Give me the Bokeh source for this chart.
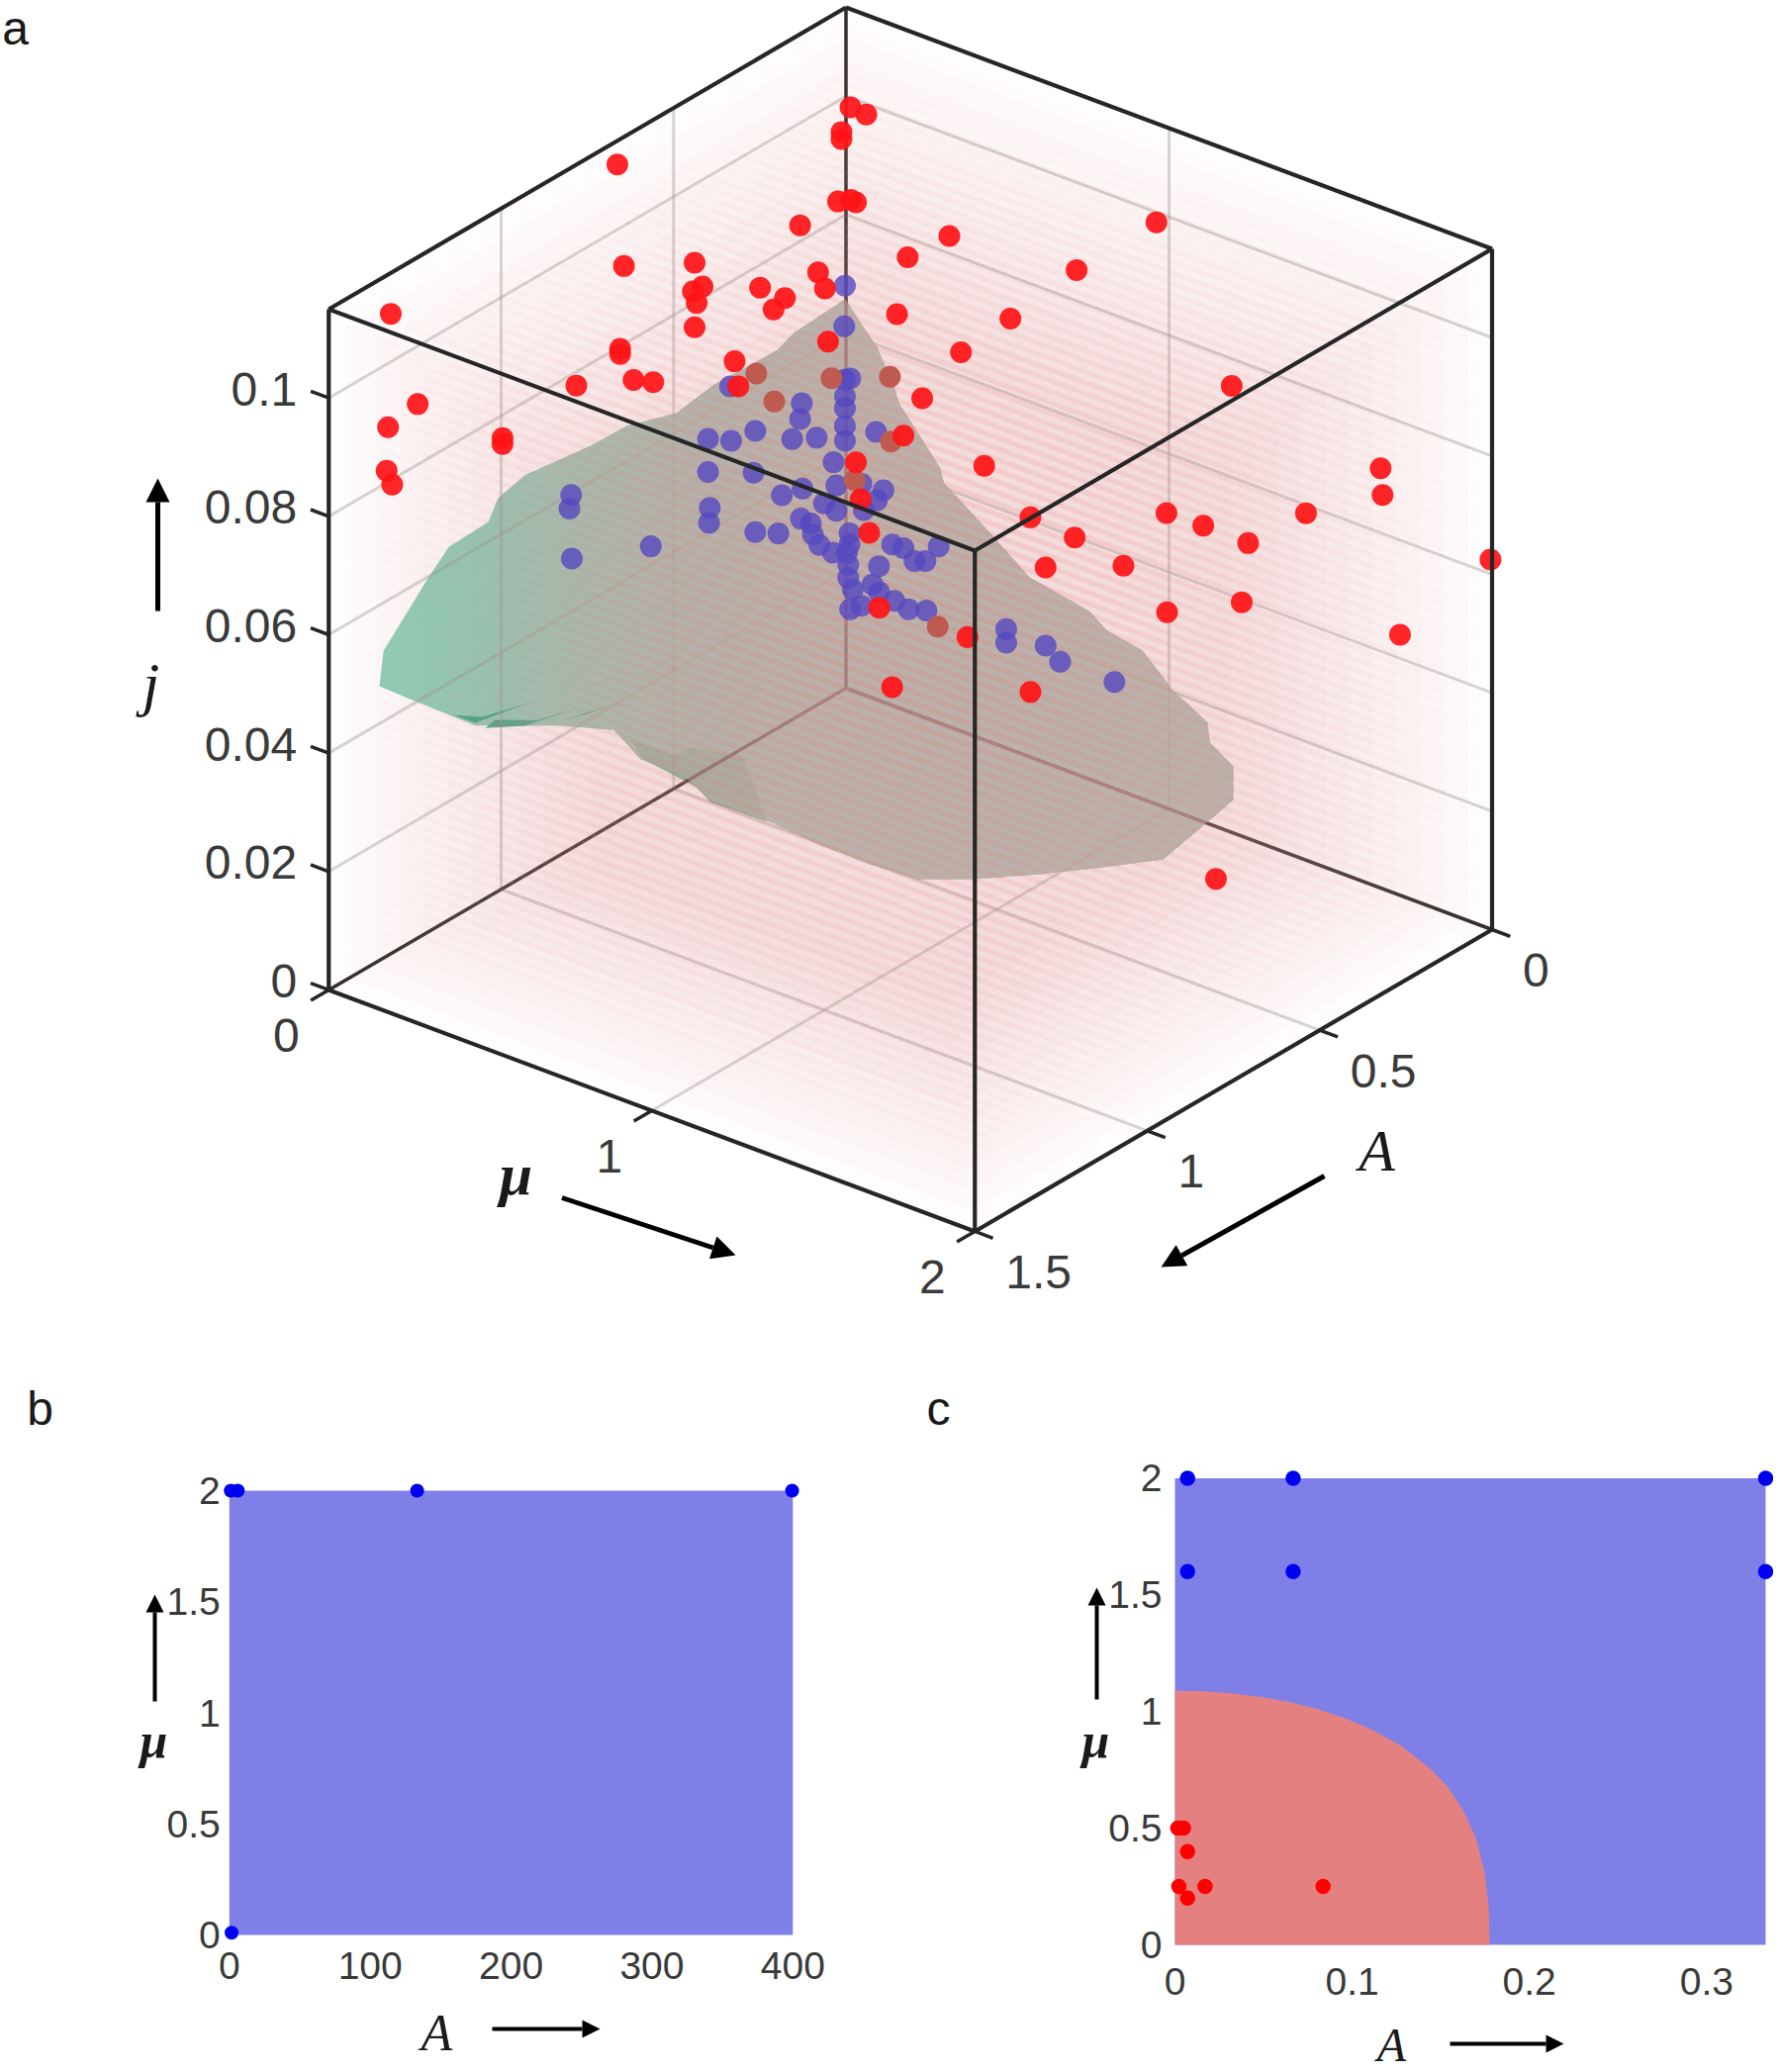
import numpy as np
from bokeh.plotting import figure
from bokeh.layouts import column, row
from bokeh.models import Range1d, FixedTicker, Arrow, NormalHead
from bokeh.core.properties import value
from bokeh.embed import file_html
from bokeh.resources import INLINE

# ---------- panel a data: (A, mu, j) ----------
red_A = [.663,.644,1.320,0,0,.013,.013,.023,0,0,.133,.439,.416,.444,.433,.439,.249,.177,.210,.081,.061,.052,
         .655,.655,.782,.616,.559,1.242,1.328,.996,.996,1.332,1.316,.323,.312] + [0] * 32 + [.5]
red_mu = [0,0,0,.014,.063,0,0,0,.015,.031,0,0,0,0,0,0,0,0,0,0,0,0,
          0,0,0,0,0,0,0,0,0,0,0,0,0,
          .356,.236,.178,.031,.045,.072,.428,1.194,.571,.992,1.106,1.245,.708,.618,.859,.994,1.225,.103,.376,.143,.571,
          1.655,1.661,1.424,1.995,1.715,.961,.714,.320,.191,.158,.509,1.679]
red_j = [.1110,.0932,.1081,.0984,.0982,.0944,.0932,.0830,.0828,.0827,.0827,.0868,.0820,.0821,.0798,.0759,.0761,.0719,.0711,.0730,.0696,.0603,
         .0796,.0787,.0777,.0730,.0707,.0902,.0892,.0761,.0751,.0820,.0791,.0662,.0616,
         .0640,.0538,.0463,.0388,.0328,.0277,.0463,.0754,.0405,.0498,.0500,.0499,.0399,.0330,.0382,.0331,.0395,.0157,.0163,.0031,.0110,
         .0709,.0665,.0586,.0624,.0440,.0983,.0852,.0829,.0767,.0664,.0728,.0190]

dim_A = [.260,.208,.042,0,0,0,0]
dim_mu = [0,0,0,.136,.139,.027,.284]
dim_j = [.0620,.0555,.0538,.0554,.0445,.0357,.0162]

blue_A = [.400,.333,.263,.128,.133,.156,.085,.003,0,.003,.003,.003,.003,0,.036,.400,.268,.395,.397,.263,.196,.566,
          .186,.126,.028,0,0,0,.064,.028,0,.131,.102,.096,.077,.038] + [0] * 23 + [
          .797,.802,.795,.336,.003,.005]
blue_mu = [0,0,0,0,0,0,0,0,.013,0,0,0,0,.093,0,0,0,0,0,0,0,0,
           0,0,0,.048,.116,.096,0,0,.055,0,0,0,0,0,.011,.011,.003,.007,.007,.102,.143,.178,.212,.246,.287,.021,.082,.103,.150,.194,.249,.013,.048,.496,.496,.618,.663,
           0,0,0,0,0,0]
blue_j = [.0557,.0531,.0524,.0525,.0500,.0474,.0452,.0522,.0526,.0494,.0474,.0444,.0419,.0452,.0394,.0501,.0455,.0439,.0414,.0353,.0328,.0432,
          .0389,.0380,.0352,.0355,.0358,.0337,.0334,.0309,.0312,.0331,.0313,.0292,.0268,.0242,.0264,.0245,.0229,.0210,.0188,.0227,.0272,.0273,.0258,.0265,.0298,.0171,.0192,.0183,.0178,.0173,.0182,.0136,.0149,.0201,.0178,.0198,.0180,
          .0597,.0576,.0489,.0624,.0681,.0613]
blue_far_A = [0]
blue_far_mu = [.831]
blue_far_j = [.0180]

surface_A = [.002,.154,.197,.286,.383,.492,.636,.739,.931,1.009,1.037,1.152,1.218,1.341,1.353,1.238,1.075,.931,.836,.673,.595,.472,
             .586,.622,.662,.7,.7,.7,.7,.6,.5] + [0] * 17
surface_mu = [0,0,0,0,0,0,0,0,0,0,0,0,0,0,0,0,0,0,0,0,0,0,
              .213,.427,.640,.816,.969,1.141,1.346,1.416,1.516,1.126,1.199,1.199,1.126,1.119,1.012,.917,.807,.752,.568,.424,.302,.292,.164,.152,.096,.054]
surface_j = [.0658,.0651,.0639,.0640,.0643,.0632,.0659,.0661,.0676,.0664,.0633,.0630,.0594,.0519,.0463,.0396,.0302,.0253,.0221,.0158,.0082,.0013,
             .0051,.0073,.0088,.0108,.0113,.0148,.0198,.0189,.0190,.0007,.0056,.0112,.0138,.0170,.0203,.0251,.0262,.0284,.0303,.0362,.0409,.0431,.0515,.0536,.0596,.0621]

under_A = [.624,.501,.452,.4,.628,.592,.535,.587]
under_mu = [0,0,0,.107,.427,.213,.107,0]
under_j = [.0125,.0058,.0053,.0044,.0075,.0052,.0037,.0079]

sliver_A = [[1.138,1.075,.911,1.055],[1.046,.931,.759,.894,1.017],[.768,.653,.722],[.624,.492,.567],[.816,.664,.759]]
sliver_j = [[.0341,.0307,.0286,.0310],[.0288,.0253,.0228,.0250,.0292],[.0256,.0250,.0254],[.0225,.0221,.0223],[.0224,.0201,.0213]]

A_ticks = [0, .5, 1, 1.5]
A_labels = ["0", "0.5", "1", "1.5"]
mu_ticks = [0, 1, 2]
mu_labels = ["0", "1", "2"]
j_ticks = [0, .02, .04, .06, .08, .1]
j_labels = ["0", "0.02", "0.04", "0.06", "0.08", "0.1"]
A_MAX, MU_MAX, J_MAX = 1.5, 2.0, 0.115

# ---------- panel b data ----------
b_dot_A = [1, 6, 133.3, 399.5, 1.6]
b_dot_mu = [2, 2, 2, 2, .01]
b_x_ticks = [0, 100, 200, 300, 400]
b_y_ticks = [0, .5, 1, 1.5, 2]
b_y_labels = ["0", "0.5", "1", "1.5", "2"]

# ---------- panel c data ----------
c_blue_A = [.0071, .0667, .3333, .0071, .0667, .3333]
c_blue_mu = [2, 2, 2, 1.6, 1.6, 1.6]
c_red_A = [.0016, .0048, .0071, .0022, .017, .0071, .0836]
c_red_mu = [.5, .5, .4, .25, .25, .2, .25]
c_bound_A = [0, .016, .032, .048, .064, .080, .096, .112, .128, .144, .154, .163, .170, .175, .177, .1776]
c_bound_mu = [1.089, 1.087, 1.078, 1.063, 1.042, 1.011, .971, .919, .851, .755, .678, .571, .454, .299, .164, 0]
c_x_ticks = [0, .1, .2, .3]
c_x_labels = ["0", "0.1", "0.2", "0.3"]

SANS = value("Liberation Sans")
TICK_C = "#3a3a3a"
HAZE = "#EE9FA3"

# ---------- view of panel a ----------
def vx(A, mu, j):
    return 854.5 + 326.5 * np.asarray(mu, float) - 348.5 * np.asarray(A, float) + 0 * np.asarray(j, float)

def vy(A, mu, j):
    return 695 + 122 * np.asarray(mu, float) + 203.3 * np.asarray(A, float) - 5982.6 * np.asarray(j, float)

def seg3(a0, m0, j0, a1, m1, j1):
    return [float(vx(a0, m0, j0)), float(vx(a1, m1, j1))], [float(vy(a0, m0, j0)), float(vy(a1, m1, j1))]

def clip_right_of(xs, ys, x0):
    """Part of a closed outline that lies to the right of x0 in the view."""
    ox, oy = [], []
    n = len(xs)
    for i in range(n):
        x1, y1, x2, y2 = xs[i], ys[i], xs[(i + 1) % n], ys[(i + 1) % n]
        if x1 >= x0:
            ox.append(x1); oy.append(y1)
        if (x1 >= x0) != (x2 >= x0):
            t = (x0 - x1) / (x2 - x1)
            ox.append(x1 + t * (x2 - x1)); oy.append(y1 + t * (y2 - y1))
    return ox, oy

pa = figure(width=1792, height=1378, x_range=Range1d(0, 1792), y_range=Range1d(1378, 0),
            x_axis_type=None, y_axis_type=None, toolbar_location=None, output_backend="svg",
            min_border=0, outline_line_color=None, background_fill_color="white", border_fill_color="white")
pa.grid.visible = False

# surface
surf_x = vx(surface_A, surface_mu, surface_j)
surf_y = vy(surface_A, surface_mu, surface_j)
pa.patch(surf_x, surf_y, fill_color="#7CCBAE", fill_alpha=0.9, line_color=None)
pa.patch(vx(under_A, under_mu, under_j), vy(under_A, under_mu, under_j),
         fill_color="#6FB590", fill_alpha=0.95, line_color=None)
sl_x = [vx(a, [0] * len(a), jj) for a, jj in zip(sliver_A, sliver_j)]
sl_y = [vy(a, [0] * len(a), jj) for a, jj in zip(sliver_A, sliver_j)]
pa.patches(sl_x, sl_y, fill_color="#2FA57E", fill_alpha=0.9, line_color=None)

# grid on the back walls and the floor
gx, gy = [], []
for jt in j_ticks[1:]:
    a, b = seg3(A_MAX, 0, jt, 0, 0, jt); gx.append(a); gy.append(b)
    a, b = seg3(0, 0, jt, 0, MU_MAX, jt); gx.append(a); gy.append(b)
for at in A_ticks[1:-1]:
    a, b = seg3(at, 0, 0, at, 0, J_MAX); gx.append(a); gy.append(b)
    a, b = seg3(at, 0, 0, at, MU_MAX, 0); gx.append(a); gy.append(b)
for mt in mu_ticks[1:-1]:
    a, b = seg3(0, mt, 0, 0, mt, J_MAX); gx.append(a); gy.append(b)
    a, b = seg3(0, mt, 0, A_MAX, mt, 0); gx.append(a); gy.append(b)
pa.multi_line(gx, gy, line_color="#8f8a8a", line_alpha=0.36, line_width=3)

# back frame
bx_, by_ = [], []
for s in [(0, 0, 0, 0, 0, J_MAX), (0, 0, 0, A_MAX, 0, 0), (0, 0, 0, 0, MU_MAX, 0)]:
    a, b = seg3(*s); bx_.append(a); by_.append(b)
pa.multi_line(bx_, by_, line_color="#2e2a2a", line_width=3.5)

# the red sample mesh seen as haze: nested outlines of the box silhouette
sil_A = [A_MAX, 0, 0, 0, A_MAX, A_MAX]
sil_mu = [0, 0, MU_MAX, MU_MAX, MU_MAX, 0]
sil_j = [J_MAX, J_MAX, J_MAX, 0, 0, 0]
sx0, sy0 = vx(sil_A, sil_mu, sil_j), vy(sil_A, sil_mu, sil_j)
cx0, cy0 = float(vx(.75, 1, .04)), float(vy(.75, 1, .04))
hx, hy = [], []
for s in np.linspace(1, .55, 12):
    hx.append(cx0 + s * (sx0 - cx0)); hy.append(cy0 + s * (sy0 - cy0))
pa.patches(hx, hy, fill_color=HAZE, fill_alpha=0.03, line_color=None)

# the surface turns greyer the deeper the haze in front of it is
tx_, ty_ = [], []
for x0 in np.linspace(500, 820, 18):
    a, b = clip_right_of(list(surf_x), list(surf_y), float(x0))
    tx_.append(a); ty_.append(b)
pa.patches(tx_, ty_, fill_color="#D2BAAE", fill_alpha=0.05, line_color=None)

# rows of the mesh along mu
rx, ry = [], []
for a in (np.arange(15) + .5) * 0.1:
    for jj in (np.arange(62) + .5) * J_MAX / 62:
        p, q = seg3(a, 0, jj, a, MU_MAX, jj); rx.append(p); ry.append(q)
pa.multi_line(rx, ry, line_color=HAZE, line_alpha=0.02, line_width=5, line_dash="5 2")

# samples
pa.scatter(vx(blue_far_A + blue_A, blue_far_mu + blue_mu, blue_far_j + blue_j),
           vy(blue_far_A + blue_A, blue_far_mu + blue_mu, blue_far_j + blue_j),
           size=22, fill_color="#5548C0", fill_alpha=0.8, line_color=None)
pa.scatter(vx(dim_A, dim_mu, dim_j), vy(dim_A, dim_mu, dim_j), size=22,
           fill_color="#BE5A50", line_color=None)
pa.scatter(vx(red_A, red_mu, red_j), vy(red_A, red_mu, red_j), size=22,
           fill_color="#FF1418", fill_alpha=0.93, line_color=None)

# front frame and ticks
fx, fy = [], []
for s in [(A_MAX, 0, 0, A_MAX, MU_MAX, 0), (0, MU_MAX, 0, A_MAX, MU_MAX, 0),
          (A_MAX, 0, 0, A_MAX, 0, J_MAX), (A_MAX, MU_MAX, 0, A_MAX, MU_MAX, J_MAX), (0, MU_MAX, 0, 0, MU_MAX, J_MAX),
          (0, 0, J_MAX, A_MAX, 0, J_MAX), (0, 0, J_MAX, 0, MU_MAX, J_MAX),
          (A_MAX, 0, J_MAX, A_MAX, MU_MAX, J_MAX), (0, MU_MAX, J_MAX, A_MAX, MU_MAX, J_MAX)]:
    a, b = seg3(*s); fx.append(a); fy.append(b)
pa.multi_line(fx, fy, line_color="#262626", line_width=4.2)

tx, ty = [], []
for jt in j_ticks:
    a, b = seg3(A_MAX, 0, jt, A_MAX, -.056, jt); tx.append(a); ty.append(b)
for at in A_ticks:
    a, b = seg3(at, MU_MAX, 0, at, MU_MAX + .056, 0); tx.append(a); ty.append(b)
for mt in mu_ticks:
    a, b = seg3(A_MAX, mt, 0, A_MAX + .052, mt, 0); tx.append(a); ty.append(b)
pa.multi_line(tx, ty, line_color="#262626", line_width=3.5)

# tick labels of panel a
fs = value("48px")
pa.text(vx([A_MAX] * 6, [0] * 6, j_ticks), vy([A_MAX] * 6, [0] * 6, j_ticks), text=j_labels,
        text_font=SANS, text_font_size=fs, text_color=TICK_C, text_align="right", text_baseline="middle",
        x_offset=-32, y_offset=-9)
pa.text(vx([A_MAX] * 3, mu_ticks, [0] * 3), vy([A_MAX] * 3, mu_ticks, [0] * 3), text=mu_labels,
        text_font=SANS, text_font_size=fs, text_color=TICK_C, text_align="center", text_baseline="middle",
        x_offset=-43, y_offset=46)
pa.text(vx(A_ticks, [MU_MAX] * 4, [0] * 4), vy(A_ticks, [MU_MAX] * 4, [0] * 4), text=A_labels,
        text_font=SANS, text_font_size=fs, text_color=TICK_C, text_align="left", text_baseline="middle",
        x_offset=31, y_offset=41)

def arrow(fig, x0, y0, x1, y1, size, w):
    fig.add_layout(Arrow(end=NormalHead(size=size, fill_color="black", line_color="black", line_width=0),
                         x_start=x0, y_start=y0, x_end=x1, y_end=y1, line_color="black", line_width=w))

def txt(fig, x, y, s, font, size, style_="normal"):
    fig.text([x], [y], text=[s], text_font=value(font), text_font_size=value(size), text_font_style=style_,
             text_color="#1a1a1a", text_align="center", text_baseline="middle")

arrow(pa, 159, 617, 159, 483, 24, 5)
arrow(pa, 567.5, 1210, 743, 1268, 24, 5)
arrow(pa, 1338, 1188, 1173, 1280, 24, 5)
txt(pa, 15, 28, "a", "Liberation Sans", "48px")
txt(pa, 152, 690, "j", "Liberation Serif", "62px", "italic")
txt(pa, 521, 1186, "μ", "Liberation Serif", "60px", "bold italic")
txt(pa, 1391, 1162, "A", "Liberation Serif", "60px", "italic")

# ---------- panels b and c ----------
def style(fig, xticks, xlabels, yticks, ylabels, sx, sy):
    fig.grid.visible = False
    for ax, ticks, labels, st in [(fig.xaxis[0], xticks, xlabels, sx), (fig.yaxis[0], yticks, ylabels, sy)]:
        ax.fixed_location = 0
        ax.ticker = FixedTicker(ticks=ticks)
        ax.major_label_overrides = dict(zip(ticks, labels))
        ax.axis_line_color = None
        ax.major_tick_line_color = None
        ax.minor_tick_line_color = None
        ax.major_tick_out = 0
        ax.major_tick_in = 0
        ax.major_label_text_font = "Liberation Sans"
        ax.major_label_text_font_size = "39px"
        ax.major_label_text_color = TICK_C
        ax.major_label_standoff = st
    fig.yaxis[0].major_label_orientation = "horizontal"

# b
bsx, bsy = 1.42375, 224.5
bX = lambda px: (px - 231.3) / bsx
bY = lambda py: (1955 - py) / bsy
pb = figure(width=900, height=716, x_range=Range1d(bX(0), bX(900)), y_range=Range1d(bY(2094), bY(1378)),
            toolbar_location=None, output_backend="svg", outline_line_color=None, min_border=0)
pb.quad(left=[0], right=[400], bottom=[0], top=[2], fill_color="#7E80E8", line_color=None)
pb.scatter(b_dot_A, b_dot_mu, size=14, fill_color="#0000F0", line_color=None)
style(pb, b_x_ticks, [str(t) for t in b_x_ticks], b_y_ticks, b_y_labels, 17, 9)
arrow(pb, bX(156), bY(1719), bX(156), bY(1611), 18, 4)
arrow(pb, bX(497), bY(2050), bX(606), bY(2050), 18, 4)
txt(pb, bX(40), bY(1423), "b", "Liberation Sans", "48px")
txt(pb, bX(155), bY(1758), "μ", "Liberation Serif", "50px", "bold italic")
txt(pb, bX(441), bY(2054), "A", "Liberation Serif", "52px", "italic")

# c
csx, csy = 1791.0, 235.8
cX = lambda px: (px - 1187) / csx
cY = lambda py: (1965 - py) / csy
pc = figure(width=892, height=716, x_range=Range1d(cX(900), cX(1792)), y_range=Range1d(cY(2094), cY(1378)),
            toolbar_location=None, output_backend="svg", outline_line_color=None, min_border=0)
pc.quad(left=[0], right=[.3333], bottom=[0], top=[2], fill_color="#7E80E8", line_color=None)
pc.patch([0] + c_bound_A, [0] + c_bound_mu, fill_color="#E58080", line_color=None)
pc.scatter(c_blue_A, c_blue_mu, size=15.5, fill_color="#0000F0", line_color=None)
pc.scatter(c_red_A, c_red_mu, size=15.5, fill_color="#FF0000", line_color=None)
style(pc, c_x_ticks, c_x_labels, b_y_ticks, b_y_labels, 23, 13)
arrow(pc, cX(1108), cY(1717), cX(1108), cY(1604), 18, 4)
arrow(pc, cX(1465), cY(2065), cX(1580), cY(2065), 18, 4)
txt(pc, cX(948), cY(1423), "c", "Liberation Sans", "48px")
txt(pc, cX(1107), cY(1758), "μ", "Liberation Serif", "50px", "bold italic")
txt(pc, cX(1406), cY(2066), "A", "Liberation Serif", "48px", "italic")

layout = column(pa, row(pb, pc, spacing=0), spacing=0)
open("out.html", "w").write(file_html(layout, INLINE))
